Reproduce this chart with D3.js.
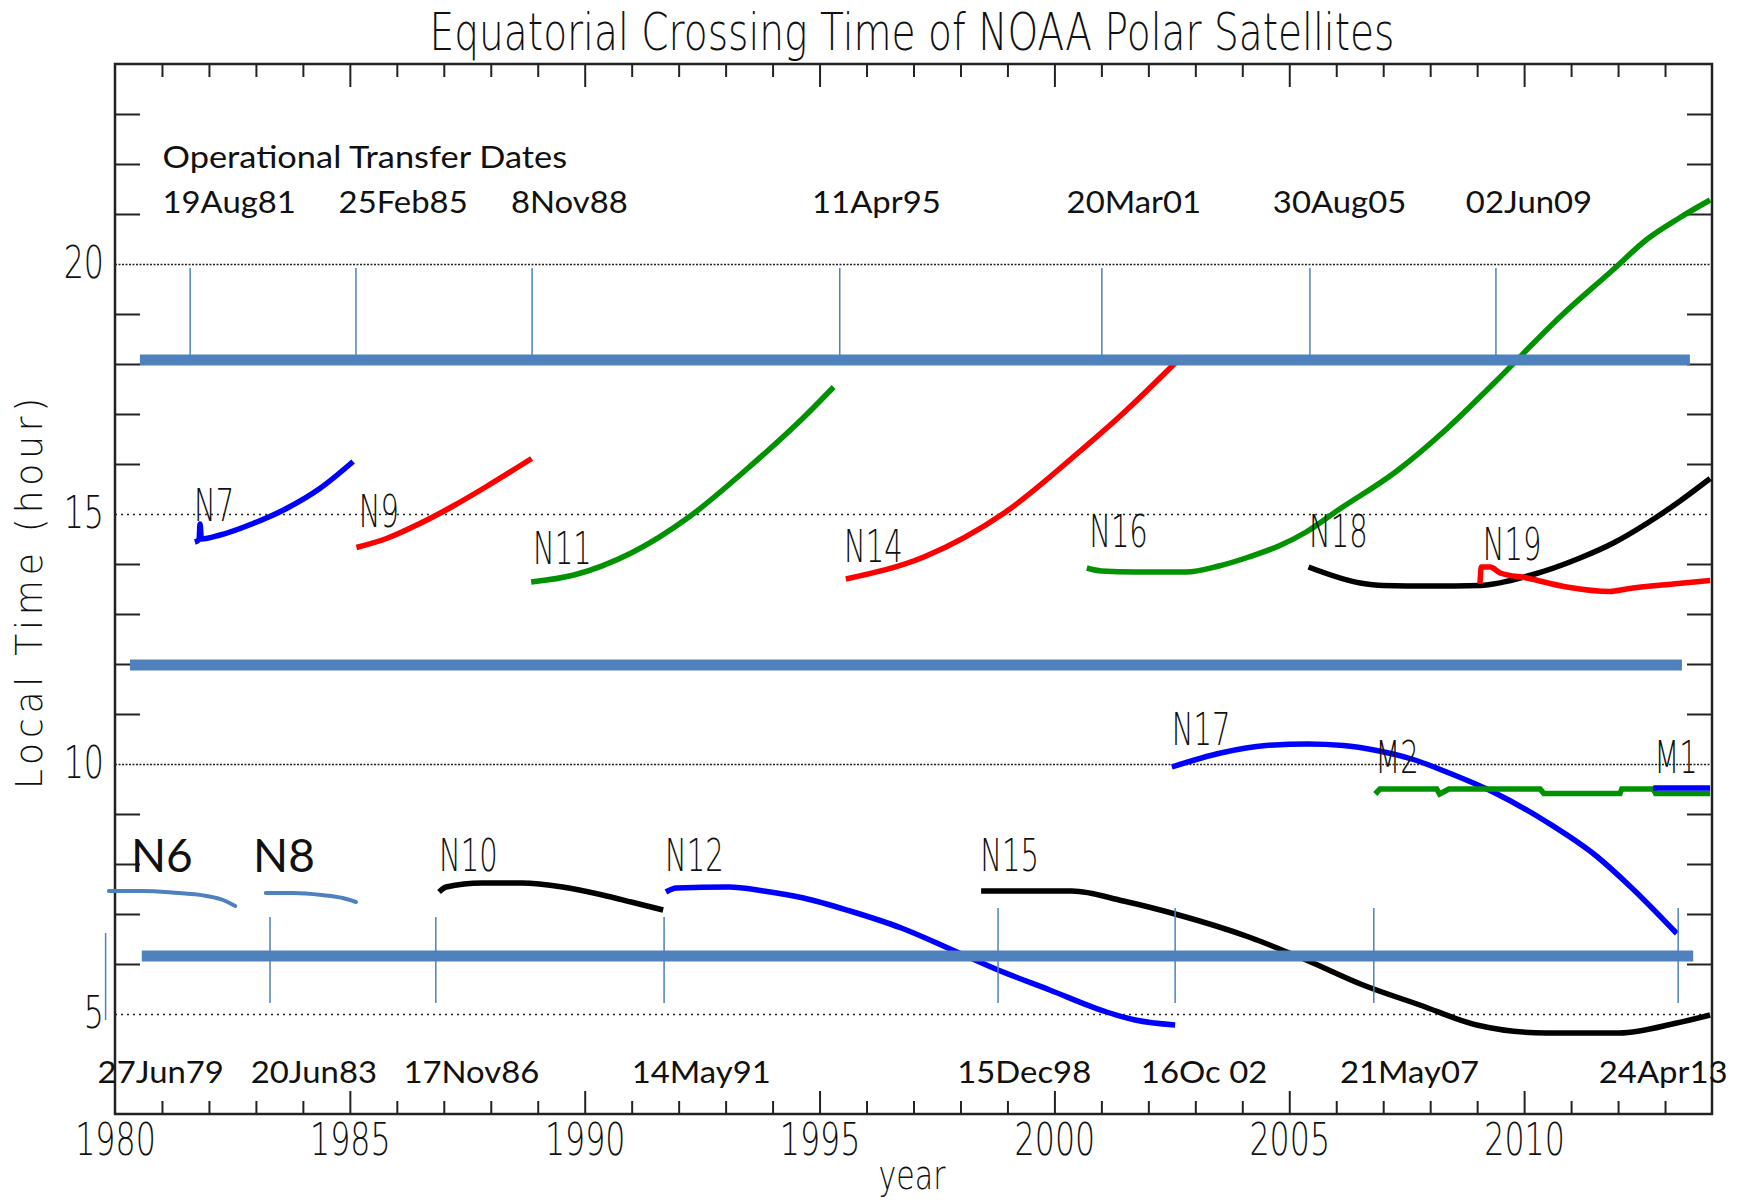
<!DOCTYPE html>
<html>
<head>
<meta charset="utf-8">
<script src="https://cdnjs.cloudflare.com/ajax/libs/d3/7.8.5/d3.min.js"></script>
<style>
  body { margin: 0; background: #fff; }
  svg { display: block; }
  .idl { font-family: "DejaVu Sans", sans-serif; font-weight: 200; fill: #111; }
  .ppt { font-family: Lato, "Open Sans", sans-serif; font-weight: 400; fill: #111; }
</style>
</head>
<body>
<div id="chart"></div>
<script>
// each curve is [year, local time in hours]
var n6  = [[1979.87, 7.46], [1980.6, 7.46], [1981.21, 7.43], [1981.95, 7.36], [1982.3, 7.28], [1982.56, 7.16]]
var n8  = [[1983.21, 7.42], [1983.8, 7.42], [1984.4, 7.38], [1984.85, 7.32], [1985.13, 7.24]]
var n7  = [[1981.70, 14.44], [1981.79, 14.49], [1981.81, 14.80], [1981.84, 14.50], [1982.24, 14.58], [1982.94, 14.81],
           [1983.65, 15.11], [1984.36, 15.51], [1985.07, 16.05]]
var n9  = [[1985.14, 14.33], [1985.78, 14.51], [1986.49, 14.81], [1987.20, 15.16], [1987.91, 15.55], [1988.87, 16.11]]
var n11 = [[1988.86, 13.64], [1989.77, 13.78], [1990.99, 14.22], [1992.22, 14.94], [1993.43, 15.88], [1994.67, 16.94], [1995.30, 17.54]]
var n14 = [[1995.56, 13.70], [1997.22, 14.14], [1998.93, 15.02], [2000.50, 16.22], [2001.47, 17.02], [2002.57, 18.02]]
var n16 = [[2000.69, 13.92], [2001.0, 13.86], [2001.72, 13.84], [2002.80, 13.84], [2003.50, 13.96], [2004.14, 14.14], [2004.80, 14.37],
           [2005.36, 14.64], [2006.01, 15.06], [2007.29, 15.86], [2008.35, 16.70], [2009.34, 17.60], [2010.83, 19.00],
           [2011.90, 19.89], [2012.61, 20.49], [2013.32, 20.93], [2013.96, 21.28]]
var n18 = [[2005.41, 13.94], [2006.51, 13.62], [2007.0, 13.57], [2008.0, 13.56], [2009.06, 13.57], [2010.12, 13.77], [2011.19, 14.12],
           [2011.90, 14.42], [2012.61, 14.81], [2013.32, 15.26], [2013.96, 15.71]]
var n19 = [[2009.06, 13.60], [2009.09, 13.94], [2009.28, 13.94], [2009.49, 13.82], [2010.06, 13.72], [2010.91, 13.54], [2011.83, 13.45],
           [2012.18, 13.50], [2013.17, 13.60], [2013.96, 13.67]]
var n17 = [[2002.50, 9.94], [2003.54, 10.22], [2004.50, 10.37], [2005.40, 10.40], [2006.15, 10.37], [2006.86, 10.27], [2007.64, 10.09],
           [2008.35, 9.84], [2009.34, 9.44], [2010.48, 8.84], [2011.55, 8.15], [2012.26, 7.55], [2013.25, 6.61]]
var m2  = [[2006.83, 9.40], [2006.93, 9.50], [2008.14, 9.50], [2008.20, 9.40], [2008.40, 9.50], [2010.34, 9.50], [2010.42, 9.41],
           [2012.04, 9.41], [2012.08, 9.50], [2012.75, 9.50], [2012.80, 9.41], [2013.96, 9.41]]
var m1  = [[2012.75, 9.52], [2013.96, 9.52]]
var n10 = [[1986.90, 7.44], [1987.05, 7.54], [1987.81, 7.62], [1988.67, 7.62], [1989.53, 7.54], [1990.38, 7.38], [1990.99, 7.24], [1991.67, 7.08]]
var n12 = [[1991.73, 7.44], [1991.95, 7.52], [1993.07, 7.54], [1993.81, 7.46], [1994.66, 7.32], [1995.65, 7.06], [1996.74, 6.72],
           [1997.83, 6.28], [1998.80, 5.88], [1999.90, 5.48], [2001.11, 5.04], [2001.72, 4.88], [2002.57, 4.78]]
var n15 = [[1998.44, 7.46], [2000.37, 7.46], [2001.47, 7.26], [2002.57, 7.00], [2004.14, 6.54], [2005.36, 6.08], [2006.57, 5.58],
           [2007.78, 5.18], [2008.99, 4.78], [2010.46, 4.62], [2012.03, 4.62], [2013.25, 4.82], [2013.96, 4.98]]

// curve labels (start year, hour of the baseline)
var labelNames = ['N7', 'N9', 'N11', 'N14', 'N16', 'N18', 'N19', 'N17', 'M2', 'M1', 'N10', 'N12', 'N15']
var labelYears = [1981.68, 1985.19, 1988.90, 1995.52, 2000.74, 2005.42, 2009.12, 2002.50, 2006.83, 2012.77, 1986.90, 1991.71, 1998.42]
var labelHours = [14.86, 14.74, 14.00, 14.04, 14.34, 14.34, 14.08, 10.38, 9.82, 9.82, 7.86, 7.86, 7.86]
var handNames = ['N6', 'N8']
var handYears = [1980.34, 1982.94]
var handHour = 7.84

// axes
var xLabelYears = [1980, 1985, 1990, 1995, 2000, 2005, 2010]
var gridHours = [5, 10, 15, 20]
var minorHours = [6, 7, 8, 9, 11, 12, 13, 14, 16, 17, 18, 19, 21, 22, 23]

// overlaid operational bands (hour, from year, to year)
var bandHours = [18.08, 11.98, 6.16]
var bandFrom = [1980.53, 1980.32, 1980.57]
var bandTo = [2013.53, 2013.36, 2013.60]

// transfer dates: marker line year and label start year
var topDates = ['19Aug81', '25Feb85', '8Nov88', '11Apr95', '20Mar01', '30Aug05', '02Jun09']
var topMarkYears = [1981.60, 1985.13, 1988.88, 1995.43, 2001.01, 2005.44, 2009.40]
var topLabelYears = [1981.01, 1984.76, 1988.43, 1994.84, 2000.26, 2004.65, 2008.76]
var bottomDates = ['27Jun79', '20Jun83', '17Nov86', '14May91', '15Dec98', '16Oc 02', '21May07', '24Apr13']
var bottomMarkYears = [1979.80, 1983.30, 1986.83, 1991.69, 1998.80, 2002.57, 2006.80, 2013.28]
var bottomMarkFrom = [6.62, 6.94, 6.94, 6.94, 7.12, 7.12, 7.12, 7.12]
var bottomMarkTo = [4.88, 5.22, 5.22, 5.22, 5.22, 5.22, 5.22, 5.22]
var bottomLabelYears = [1979.63, 1982.89, 1986.14, 1991.00, 1997.93, 2001.84, 2006.08, 2011.59]

var width = 1744, height = 1202
var margin = {top: 64, right: 32, bottom: 88, left: 115}
var plotW = width - margin.left - margin.right

var blue = '#0000ff', red = '#ff0000', green = '#009200', black = '#000000', office = '#4f81bd'

var satellites = [
  {values: n7, color: blue}, {values: n9, color: red}, {values: n11, color: green},
  {values: n14, color: red}, {values: n16, color: green}, {values: n18, color: black},
  {values: n19, color: red}, {values: n17, color: blue}, {values: m2, color: green, stepped: true},
  {values: m1, color: blue, stepped: true}, {values: n10, color: black}, {values: n12, color: blue},
  {values: n15, color: black}
]

var xScale = d3.scaleLinear().domain([1980, 2014]).range([margin.left, width - margin.right])
var yScale = d3.scaleLinear().domain([3, 24]).range([height - margin.bottom, margin.top])

var svg = d3.select('#chart')
  .append('svg')
  .attr('width', width)
  .attr('height', height)

svg.append('rect').attr('width', width).attr('height', height).attr('fill', '#fff')

// squeezed vector-font text, like the IDL Hershey font
function idlText(x, y, str, size, sx, anchor) {
  return svg.append('text')
    .attr('class', 'idl')
    .attr('transform', `translate(${x},${y}) scale(${sx},1)`)
    .attr('text-anchor', anchor || 'start')
    .style('font-size', size + 'px')
    .text(str)
}

// Render dotted grid
svg.append('g')
  .attr('transform', `translate(${margin.left},0)`)
  .call(d3.axisLeft(yScale).tickValues(gridHours).tickSize(-plotW).tickFormat(''))
  .call(g => g.select('.domain').remove())
  .selectAll('line')
  .attr('stroke', '#222')
  .attr('stroke-width', 1.4)
  .attr('stroke-dasharray', d => d % 10 === 0 ? '2,1.5' : '2,4')

// tick marks on all four sides, pointing inward
function tickGroup(axis, transform) {
  svg.append('g')
    .attr('transform', transform)
    .call(axis.tickFormat(''))
    .call(g => g.select('.domain').remove())
    .selectAll('line')
    .attr('stroke', '#222')
    .attr('stroke-width', 2)
}
var minorYears = d3.range(1981, 2014).filter(d => d % 5 !== 0)
var majorYears = xLabelYears.slice(1)
tickGroup(d3.axisBottom(xScale).tickValues(minorYears).tickSize(-13).tickSizeOuter(0), `translate(0,${height - margin.bottom})`)
tickGroup(d3.axisBottom(xScale).tickValues(majorYears).tickSize(-23).tickSizeOuter(0), `translate(0,${height - margin.bottom})`)
tickGroup(d3.axisTop(xScale).tickValues(minorYears).tickSize(-13).tickSizeOuter(0), `translate(0,${margin.top})`)
tickGroup(d3.axisTop(xScale).tickValues(majorYears).tickSize(-23).tickSizeOuter(0), `translate(0,${margin.top})`)
tickGroup(d3.axisLeft(yScale).tickValues(minorHours).tickSize(-25).tickSizeOuter(0), `translate(${margin.left},0)`)
tickGroup(d3.axisRight(yScale).tickValues(minorHours).tickSize(-25).tickSizeOuter(0), `translate(${width - margin.right},0)`)

// frame
svg.append('rect')
  .attr('x', margin.left)
  .attr('y', margin.top)
  .attr('width', plotW)
  .attr('height', height - margin.top - margin.bottom)
  .attr('fill', 'none')
  .attr('stroke', '#222')
  .attr('stroke-width', 2.5)

var digitSquash = 0.72

// Render X axis labels
svg.append('g')
  .attr('transform', `translate(0,${height - margin.bottom})`)
  .call(d3.axisBottom(xScale).tickValues(xLabelYears).tickSize(0).tickFormat(d3.format('d')))
  .call(g => g.select('.domain').remove())
  .selectAll('text')
  .attr('class', 'idl')
  .attr('y', 41)
  .attr('dy', null)
  .attr('transform', `scale(${digitSquash},1)`)
  .style('font-size', '44px')

// Render Y axis labels
svg.append('g')
  .attr('transform', `translate(${margin.left},0)`)
  .call(d3.axisLeft(yScale).tickValues(gridHours).tickSize(0).tickFormat(d3.format('d')))
  .call(g => g.select('.domain').remove())
  .selectAll('text')
  .attr('class', 'idl')
  .attr('x', -11 / digitSquash)
  .attr('dy', 13)
  .attr('transform', `scale(${digitSquash},1)`)
  .style('font-size', '44px')

idlText(912, 50, 'Equatorial Crossing Time of NOAA Polar Satellites', 52, 0.752, 'middle')
idlText(912, 1189, 'year', 40, 0.75, 'middle')
svg.append('text')
  .attr('class', 'idl')
  .attr('transform', `translate(42,591) rotate(-90) scale(0.95,1)`)
  .attr('text-anchor', 'middle')
  .style('font-size', '38px')
  .style('letter-spacing', '5px')
  .text('Local Time (hour)')

// satellite crossing-time curves
var smooth = d3.line().x(d => xScale(d[0])).y(d => yScale(d[1])).curve(d3.curveMonotoneX)
var stepped = d3.line().x(d => xScale(d[0])).y(d => yScale(d[1]))

satellites.forEach(s => {
  svg.append('path')
    .datum(s.values)
    .attr('d', s.stepped ? stepped : smooth)
    .attr('fill', 'none')
    .attr('stroke', s.color)
    .attr('stroke-width', 5.5)
})

labelNames.forEach((name, i) => {
  idlText(xScale(labelYears[i]), yScale(labelHours[i]), name, 44, 0.66)
})

// hand-drawn overlay: bands, transfer markers, early satellites
bandHours.forEach((h, i) => {
  svg.append('line')
    .attr('x1', xScale(bandFrom[i]))
    .attr('x2', xScale(bandTo[i]))
    .attr('y1', yScale(h))
    .attr('y2', yScale(h))
    .attr('stroke', office)
    .attr('stroke-width', 11)
})

svg.selectAll('.top-mark')
  .data(topMarkYears)
  .enter()
  .append('line')
  .attr('class', 'top-mark')
  .attr('x1', d => xScale(d))
  .attr('x2', d => xScale(d))
  .attr('y1', yScale(19.92))
  .attr('y2', yScale(18.18))
  .attr('stroke', office)
  .attr('stroke-width', 1.5)

svg.selectAll('.bottom-mark')
  .data(bottomMarkYears)
  .enter()
  .append('line')
  .attr('class', 'bottom-mark')
  .attr('x1', d => xScale(d))
  .attr('x2', d => xScale(d))
  .attr('y1', (d, i) => yScale(bottomMarkFrom[i]))
  .attr('y2', (d, i) => yScale(bottomMarkTo[i]))
  .attr('stroke', office)
  .attr('stroke-width', 1.5)

;[n6, n8].forEach(v => {
  svg.append('path')
    .datum(v)
    .attr('d', smooth)
    .attr('fill', 'none')
    .attr('stroke', office)
    .attr('stroke-width', 4)
    .attr('stroke-linecap', 'round')
})

function pptText(x, y, str, size, sx) {
  return svg.append('text')
    .attr('class', 'ppt')
    .attr('transform', `translate(${x},${y}) scale(${sx || 1.06},1)`)
    .style('font-size', size + 'px')
    .text(str)
}

pptText(xScale(1981.01), yScale(21.92), 'Operational Transfer Dates', 31, 1.11)
topDates.forEach((t, i) => pptText(xScale(topLabelYears[i]), yScale(21.02), t, 31))
bottomDates.forEach((t, i) => pptText(xScale(bottomLabelYears[i]), yScale(3.62), t, 31))
handNames.forEach((t, i) => pptText(xScale(handYears[i]), yScale(handHour), t, 46, 1.0))
</script>
</body>
</html>
